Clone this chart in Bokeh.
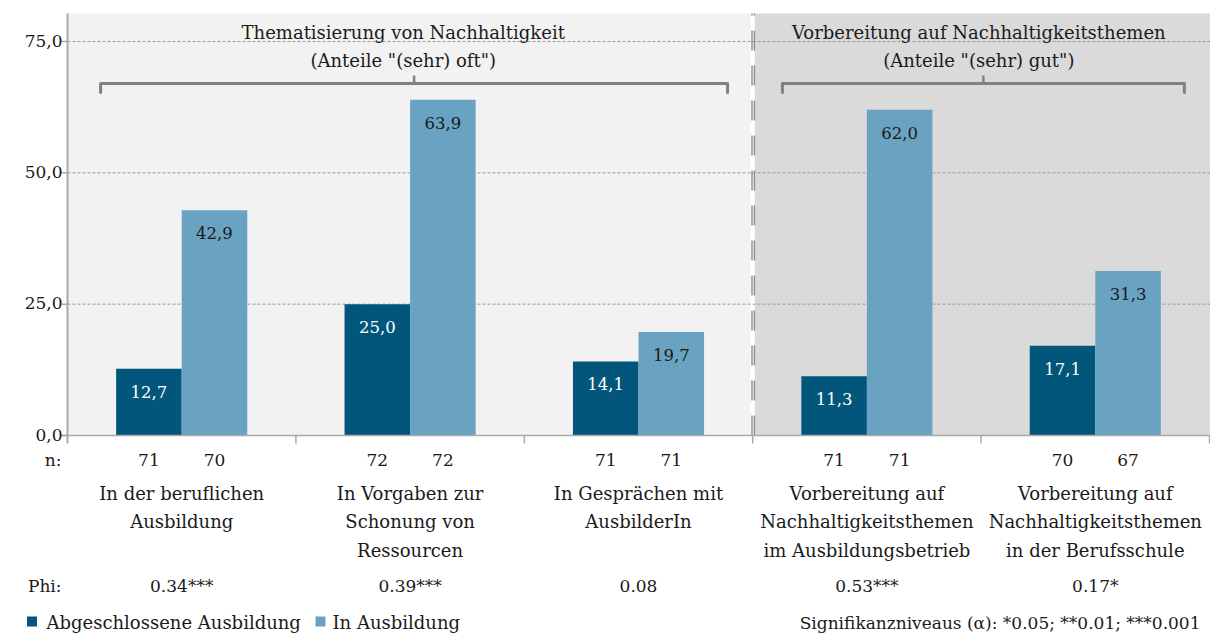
from bokeh.plotting import figure
from bokeh.models import Range1d
from bokeh.embed import file_html
from bokeh.resources import INLINE
from bokeh.core.properties import value

# ---------------- data ----------------
categories = [
    "In der beruflichen\nAusbildung",
    "In Vorgaben zur\nSchonung von\nRessourcen",
    "In Gesprächen mit\nAusbilderIn",
    "Vorbereitung auf\nNachhaltigkeitsthemen\nim Ausbildungsbetrieb",
    "Vorbereitung auf\nNachhaltigkeitsthemen\nin der Berufsschule",
]
series_names = ["Abgeschlossene Ausbildung", "In Ausbildung"]
values_done = [12.7, 25.0, 14.1, 11.3, 17.1]
values_training = [42.9, 63.9, 19.7, 62.0, 31.3]
n_done = [71, 72, 71, 71, 70]
n_training = [70, 72, 71, 71, 67]
phi_labels = ["0.34***", "0.39***", "0.08", "0.53***", "0.17*"]
group_titles = [
    'Thematisierung von Nachhaltigkeit\n(Anteile "(sehr) oft")',
    'Vorbereitung auf Nachhaltigkeitsthemen\n(Anteile "(sehr) gut")',
]
group_spans = [(0, 3), (3, 5)]
y_ticks = [0, 25, 50, 75]
y_tick_labels = ["0,0", "25,0", "50,0", "75,0"]
n_label = "n:"
phi_label = "Phi:"
footnote = "Signifikanzniveaus (\u03b1): *0.05; **0.01; ***0.001"

# ---------------- styling / layout ----------------
FONT = value("DejaVu Serif")
TEXT = "#1a1a1a"
DARK = "#02557b"
LIGHT = "#6aa3c2"
BG_LEFT = "#f2f2f2"
BG_RIGHT = "#dadada"
AXIS = "#a9a9a9"
GRID = "#9a9a9a"
BRACKET = "#808080"
WORD_SIZE = "18px"
NUM_SIZE = "17px"

W, H = 1210, 634
U = 228.4      # px per category
PX = 5.2533    # px per value unit
OX, OY = 67, 435   # frame position of value axis / zero line
BW = 0.287     # bar width in category units
XEND = (W - OX) / U


def rx(page_x):
    return (page_x - OX) / U


def ry(page_y):
    return (OY - page_y) / PX


p = figure(width=W, height=H, output_backend="svg", toolbar_location=None,
           x_axis_type=None, y_axis_type=None,
           x_range=Range1d(-OX / U, XEND),
           y_range=Range1d(-(H - OY) / PX, OY / PX),
           min_border=0, outline_line_color=None,
           background_fill_color="white", border_fill_color="white")
p.grid.visible = False

top = ry(13)
# background panels
p.quad(left=[0, rx(754.3)], right=[rx(750), XEND], bottom=[0, 0], top=[top, top],
       fill_color=[BG_LEFT, BG_RIGHT], line_color=None)

# grid lines
grid_ticks = [t for t in y_ticks if t > 0]
p.segment(x0=[0] * len(grid_ticks), x1=[XEND] * len(grid_ticks),
          y0=grid_ticks, y1=grid_ticks, line_color=GRID, line_width=1, line_dash="3 2")

# divider between the two groups
for xp in (751.5, 753.9):
    p.line(x=[rx(xp), rx(xp)], y=[0, top], line_color="#8c8c8c", line_width=1.4,
           line_dash="20 15")

# bars
centers = [i + 0.5 for i in range(len(categories))]
p.vbar(x=[c - BW / 2 for c in centers], width=BW, bottom=0, top=values_done,
       fill_color=DARK, line_color=None)
p.vbar(x=[c + BW / 2 for c in centers], width=BW, bottom=0, top=values_training,
       fill_color=LIGHT, line_color=None)

# axes
p.line(x=[0, 0], y=[ry(443), top], line_color=AXIS, line_width=2)
p.line(x=[rx(61), XEND], y=[0, 0], line_color=AXIS, line_width=1.5)
p.segment(x0=[rx(61)] * len(y_ticks), x1=[0] * len(y_ticks), y0=y_ticks, y1=y_ticks,
          line_color=AXIS, line_width=1.5)
bounds = list(range(1, len(categories) + 1))
p.segment(x0=bounds, x1=bounds, y0=[0] * len(bounds), y1=[ry(443)] * len(bounds),
          line_color=AXIS, line_width=1.5)
p.text(x=[rx(62)] * len(y_ticks), y=[t + 1 / PX for t in y_ticks], text=y_tick_labels,
       text_font=FONT, text_font_size=NUM_SIZE, text_align="right", text_baseline="middle",
       text_color=TEXT)

# bar value labels
fmt = lambda v: f"{v:.1f}".replace(".", ",")
off = 23 / PX
p.text(x=[c - BW / 2 for c in centers], y=[v - off for v in values_done],
       text=[fmt(v) for v in values_done], text_font=FONT, text_font_size="16.5px",
       text_align="center", text_baseline="middle", text_color="white")
p.text(x=[c + BW / 2 for c in centers], y=[v - off for v in values_training],
       text=[fmt(v) for v in values_training], text_font=FONT, text_font_size="16.5px",
       text_align="center", text_baseline="middle", text_color=TEXT)

# n row
p.text(x=[rx(61)], y=[ry(459)], text=[n_label], text_font=FONT, text_font_size=NUM_SIZE,
       text_align="right", text_baseline="middle", text_color=TEXT)
p.text(x=[c - BW / 2 for c in centers] + [c + BW / 2 for c in centers],
       y=[ry(459)] * (2 * len(centers)),
       text=[str(n) for n in n_done] + [str(n) for n in n_training],
       text_font=FONT, text_font_size=NUM_SIZE, text_align="center", text_baseline="middle",
       text_color=TEXT)

# category labels
cx, cy, ct = [], [], []
for c, lab in zip(centers, categories):
    for j, line in enumerate(lab.split("\n")):
        cx.append(c)
        cy.append(ry(493 + 28.3 * j))
        ct.append(line)
p.text(x=cx, y=cy, text=ct, text_font=FONT, text_font_size=WORD_SIZE, text_align="center",
       text_baseline="middle", text_color=TEXT)

# phi row
p.text(x=[rx(61)], y=[ry(585)], text=[phi_label], text_font=FONT, text_font_size=NUM_SIZE,
       text_align="right", text_baseline="middle", text_color=TEXT)
p.text(x=centers, y=[ry(585)] * len(centers), text=phi_labels, text_font=FONT,
       text_font_size=NUM_SIZE, text_align="center", text_baseline="middle", text_color=TEXT)

# group brackets and titles
for (a, b), title in zip(group_spans, group_titles):
    xl = a + (0.145 if a == 0 else 0.13)
    xr = b - 0.11
    xm = (xl + xr) / 2
    p.line(x=[xl, xl, xr, xr], y=[ry(92), ry(83), ry(83), ry(92)], line_color=BRACKET,
           line_width=3, line_join="round", line_cap="round")
    p.line(x=[xm, xm], y=[ry(83), ry(75)], line_color=BRACKET, line_width=2.5)
    lines = title.split("\n")
    tx = (a + b) / 2 - (0.03 if a == 0 else 0.01)
    p.text(x=[tx] * len(lines), y=[ry(32 + 28.3 * j) for j in range(len(lines))],
           text=lines, text_font=FONT, text_font_size=WORD_SIZE, text_align="center",
           text_baseline="middle", text_color=TEXT)

# legend and footnote
ly = 622
p.scatter(x=[rx(31.5), rx(320)], y=[ry(ly - 1)] * 2, marker="square", size=10,
          fill_color=[DARK, LIGHT], line_color=None)
p.text(x=[rx(46), rx(332)], y=[ry(ly)] * 2, text=series_names, text_font=FONT,
       text_font_size="18px", text_align="left", text_baseline="middle", text_color=TEXT)
p.text(x=[rx(1200)], y=[ry(ly)], text=[footnote], text_font=FONT, text_font_size="17px",
       text_align="right", text_baseline="middle", text_color=TEXT)

open("out.html", "w").write(file_html(p, INLINE))
